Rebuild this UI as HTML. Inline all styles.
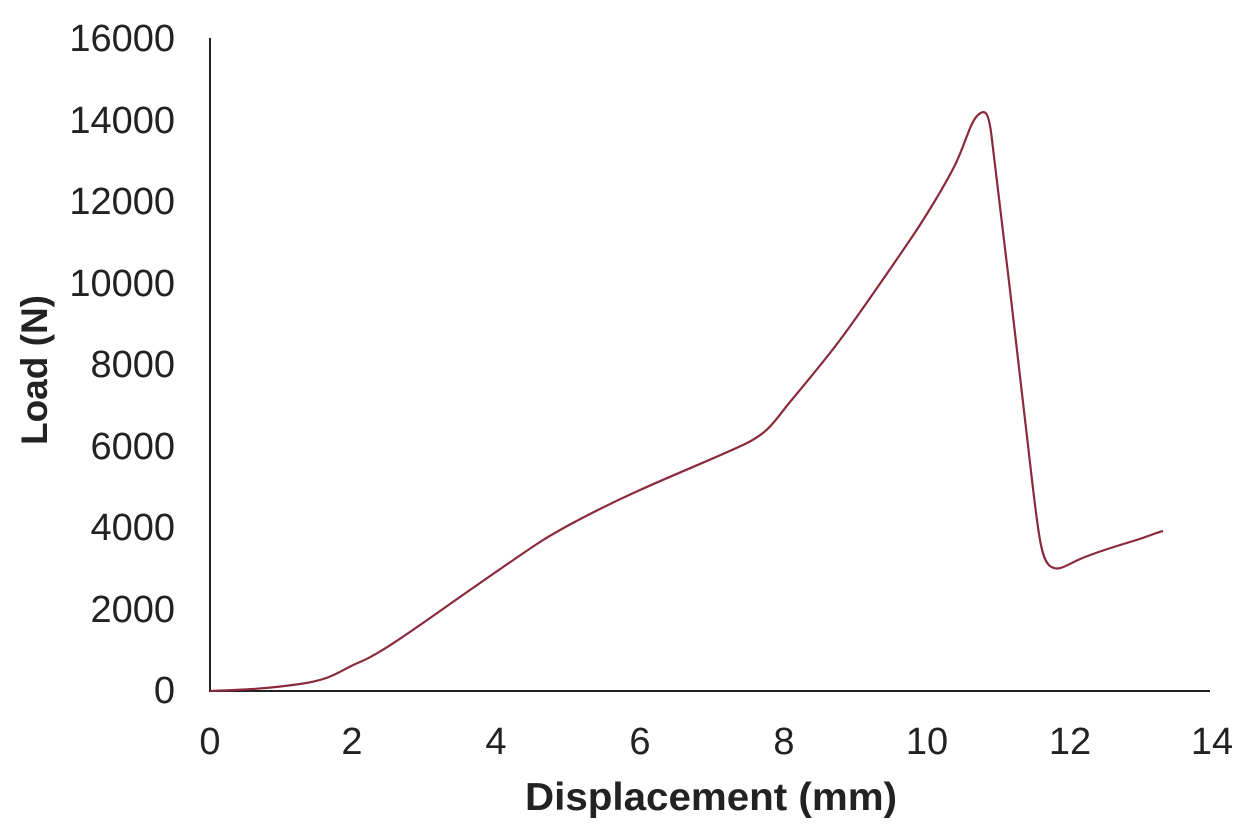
<!DOCTYPE html>
<html><head><style>body{margin:0;background:#fff}</style></head><body>
<svg width="1257" height="822" xmlns="http://www.w3.org/2000/svg" style="font-family:'Liberation Sans',Arial,sans-serif">
<rect width="1257" height="822" fill="#fff"/>
<line x1="210" y1="38" x2="210" y2="692" stroke="#222" stroke-width="2"/>
<line x1="209" y1="691" x2="1210" y2="691" stroke="#222" stroke-width="2"/>
<g font-size="38" fill="#222" text-anchor="end">
<text x="175" y="51">16000</text>
<text x="175" y="133">14000</text>
<text x="175" y="214">12000</text>
<text x="175" y="296">10000</text>
<text x="175" y="377">8000</text>
<text x="175" y="459">6000</text>
<text x="175" y="540">4000</text>
<text x="175" y="622">2000</text>
<text x="175" y="703">0</text>
</g>
<g font-size="38" fill="#222" text-anchor="middle">
<text x="210" y="754">0</text>
<text x="352" y="754">2</text>
<text x="496" y="754">4</text>
<text x="640" y="754">6</text>
<text x="784" y="754">8</text>
<text x="927" y="754">10</text>
<text x="1070" y="754">12</text>
<text x="1212" y="754">14</text>
</g>
<text x="525" y="810" font-size="39" font-weight="bold" fill="#222" textLength="372" lengthAdjust="spacingAndGlyphs">Displacement (mm)</text>
<text transform="translate(47,370) rotate(-90)" font-size="37" font-weight="bold" fill="#222" text-anchor="middle">Load (N)</text>
<path d="M210,691 C240,690 265,689 300,684 S340,670 360,662 S420,625 450,604 S520,555 540,542 S600,508 640,490 S720,456 745,444 S775,420 790,402 S825,360 840,340 S895,262 910,240 S945,185 955,165 S970,122 978,115 S989,113 992,140 S1002,220 1010,290 S1025,420 1032,480 S1042,560 1050,566 S1065,566 1078,560 S1110,548 1130,542 S1155,533 1163,531" fill="none" stroke="#8a2a3a" stroke-width="2.2"/>
</svg>
</body></html>
